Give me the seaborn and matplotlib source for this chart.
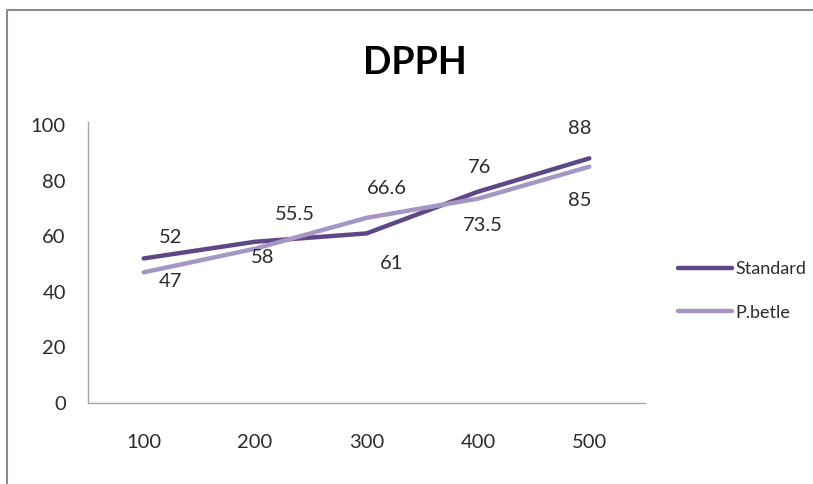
import pandas as pd
import matplotlib
matplotlib.use("Agg")
import matplotlib.pyplot as plt
import seaborn as sns
from matplotlib.lines import Line2D

concentrations = ["100", "200", "300", "400", "500"]
standard = [52, 58, 61, 76, 88]
p_betle = [47, 55.5, 66.6, 73.5, 85]
series_names = ["Standard", "P.betle"]
yticks = [0, 20, 40, 60, 80, 100]

# label offsets in pixels (dx, dy) for each point, as placed in the original
std_offsets = [(27, 21), (8, -16), (25, -30), (2, 24), (-10, 30)]
pb_offsets = [(27, -9), (40, 34), (20, 29), (5, -27), (-10, -34)]

df = pd.DataFrame({
    "conc": concentrations * 2,
    "value": standard + p_betle,
    "series": [series_names[0]] * 5 + [series_names[1]] * 5,
})

sns.set_theme(style="white")
plt.rcParams["font.family"] = ["Lato", "DejaVu Sans"]
colors = {"Standard": "#5E4787", "P.betle": "#A597C3"}
text_color = "#2b2b2b"

fig = plt.figure(figsize=(8.13, 4.84), dpi=100)
ax = fig.add_axes([88 / 813, 1 - 403 / 484, (645 - 88) / 813, (403 - 125) / 484])

sns.lineplot(data=df, x="conc", y="value", hue="series", palette=colors,
             linewidth=3.2, ax=ax, sort=False, legend=False)

for vals, offs in [(standard, std_offsets), (p_betle, pb_offsets)]:
    for i, (v, (dx, dy)) in enumerate(zip(vals, offs)):
        lab = f"{v:g}"
        ax.annotate(lab, (i, v), xytext=(dx * 0.72, dy * 0.72), textcoords="offset points",
                    ha="center", va="center", fontsize=14.5, color=text_color)

ax.set_xlim(-0.5, 4.5)
ax.set_ylim(0, 100)
ax.set_yticks(yticks)
ax.set_xlabel("")
ax.set_ylabel("")
ax.tick_params(axis="both", length=0, labelsize=14.5, colors=text_color)
ax.tick_params(axis="y", pad=16)
ax.tick_params(axis="x", pad=22)
for s in ["top", "right"]:
    ax.spines[s].set_visible(False)
for s in ["left", "bottom"]:
    ax.spines[s].set_color("#a6a6a6")
    ax.spines[s].set_linewidth(1.0)
ax.spines["left"].set_bounds(0, 101)

fig.text(415 / 813, 1 - 63 / 484, "DPPH", ha="center", va="center",
         fontsize=27, fontweight="bold", color="black")

handles = [Line2D([], [], color=colors[n], linewidth=3.2) for n in series_names]
fig.legend(handles, series_names, loc="center left",
           bbox_to_anchor=(674 / 813, 1 - 291 / 484), frameon=False,
           fontsize=13, handlelength=3.0, handletextpad=0.2,
           labelspacing=1.5, borderpad=0.2, borderaxespad=0.0,
           labelcolor=text_color)

# chart frame (cropped on right and bottom)
fig.add_artist(Line2D([7 / 813, 1.0], [1 - 10 / 484, 1 - 10 / 484],
                      transform=fig.transFigure, color="#8c8c8c", linewidth=1.5))
fig.add_artist(Line2D([7 / 813, 7 / 813], [1 - 10 / 484, 0.0],
                      transform=fig.transFigure, color="#8c8c8c", linewidth=1.5))

fig.savefig("out.png", dpi=100)
